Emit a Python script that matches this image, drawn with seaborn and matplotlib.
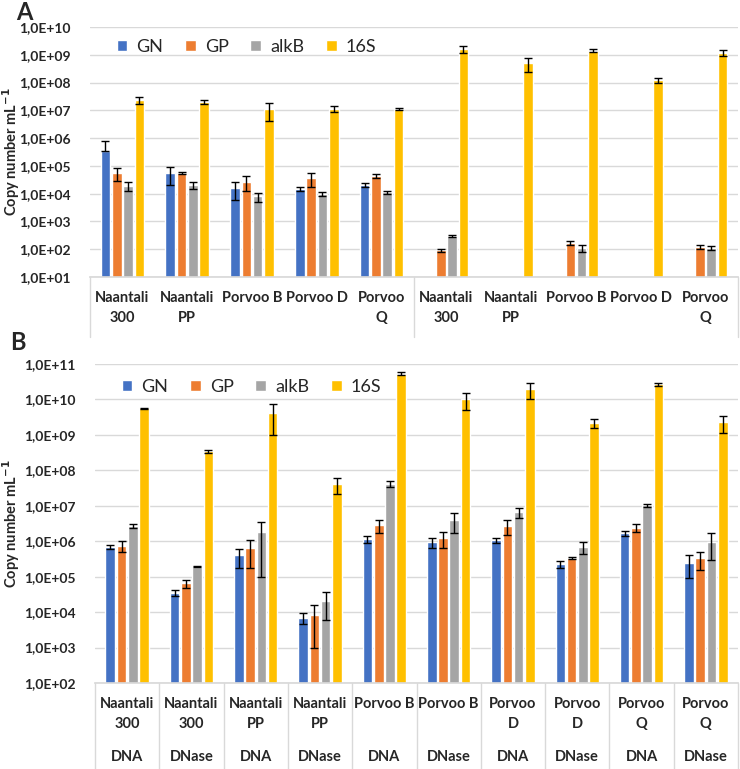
import numpy as np
import pandas as pd
import matplotlib
matplotlib.use("Agg")
import matplotlib.pyplot as plt
import seaborn as sns

# ---- data ----
genes = ["GN", "GP", "alkB", "16S"]
colors = ["#4472C4", "#ED7D31", "#A5A5A5", "#FFC000"]

# panel A
samples_a = ["Naantali\n300", "Naantali\nPP", "Porvoo B", "Porvoo D", "Porvoo\nQ",
             "Naantali\n300 ", "Naantali\nPP ", "Porvoo B ", "Porvoo D ", "Porvoo\nQ "]
gn_a = [3.5e5, 5.6e4, 1.6e4, 1.5e4, 2.1e4, np.nan, np.nan, np.nan, np.nan, np.nan]
gp_a = [5.6e4, 5.6e4, 2.7e4, 3.7e4, 4.4e4, 90, np.nan, 170, np.nan, 125]
alkb_a = [1.9e4, 2.1e4, 8.0e3, 1.0e4, 1.15e4, 300, np.nan, 110, np.nan, 110]
s16_a = [2.3e7, 2.0e7, 1.1e7, 1.15e7, 1.1e7, 1.6e9, 5.2e8, 1.4e9, 1.25e8, 1.2e9]
gn_a_sd = [4.1e5, 3.5e4, 1.0e4, 3e3, 4e3, np.nan, np.nan, np.nan, np.nan, np.nan]
gp_a_sd = [2.7e4, 5e3, 1.5e4, 2e4, 6e3, 8, np.nan, 30, np.nan, 20]
alkb_a_sd = [7e3, 6e3, 3e3, 1.5e3, 1.5e3, 15, np.nan, 30, np.nan, 20]
s16_a_sd = [6e6, 3e6, 7e6, 3e6, 1e6, 4e8, 2.7e8, 1.5e8, 2.5e7, 3e8]

# panel B
samples_b = ["Naantali\n300", "Naantali\n300 ", "Naantali\nPP", "Naantali\nPP ",
             "Porvoo B", "Porvoo B ", "Porvoo\nD", "Porvoo\nD ", "Porvoo\nQ", "Porvoo\nQ "]
treat_b = ["DNA", "DNase"] * 5
gn_b = [7e5, 3.5e4, 4e5, 7e3, 1.15e6, 9.5e5, 1.07e6, 2.3e5, 1.7e6, 2.5e5]
gp_b = [7.5e5, 6.5e4, 6.3e5, 8.5e3, 2.9e6, 1.25e6, 2.7e6, 3.3e5, 2.4e6, 3.3e5]
alkb_b = [2.7e6, 1.9e5, 1.8e6, 2.1e4, 4.2e7, 4e6, 6.5e6, 7e5, 1.05e7, 9.8e5]
s16_b = [5.6e9, 3.4e8, 4.2e9, 4.2e7, 5.3e10, 1e10, 2e10, 2.2e9, 2.7e10, 2.3e9]
gn_b_sd = [1e5, 7e3, 2.2e5, 2.5e3, 2.5e5, 3e5, 2e5, 5e4, 2.5e5, 1.6e5]
gp_b_sd = [2.5e5, 1.7e4, 4.6e5, 7.5e3, 1.2e6, 6e5, 1.2e6, 2e4, 6e5, 1.8e5]
alkb_b_sd = [4e5, 5e3, 1.7e6, 1.5e4, 8e6, 2.3e6, 2e6, 2.6e5, 1e6, 6.8e5]
s16_b_sd = [2e8, 3e7, 3.2e9, 2e7, 5e9, 5e9, 1e10, 6e8, 3e9, 1.2e9]


def long_frame(samples, cols, sds):
    rows = []
    for g, vals, errs in zip(genes, cols, sds):
        for s, v, e in zip(samples, vals, errs):
            rows.append({"sample": s, "gene": g, "value": v, "sd": e})
    return pd.DataFrame(rows)


df_a = long_frame(samples_a, [gn_a, gp_a, alkb_a, s16_a], [gn_a_sd, gp_a_sd, alkb_a_sd, s16_a_sd])
df_b = long_frame(samples_b, [gn_b, gp_b, alkb_b, s16_b], [gn_b_sd, gp_b_sd, alkb_b_sd, s16_b_sd])

sns.set_theme(style="white")
plt.rcParams["font.family"] = ["Lato", "DejaVu Sans"]

fig = plt.figure(figsize=(7.4, 7.69), dpi=100)
ax_a = fig.add_axes([90 / 740, 1 - 277 / 769, 648 / 740, 250 / 769])
ax_b = fig.add_axes([95 / 740, 1 - 683 / 769, 643 / 740, 319 / 769])

BAR_W = 0.7
GRID = "#D9D9D9"


def draw_panel(ax, df, samples, ymin_exp, ymax_exp, sep_positions, sep_depth, leg_y):
    sns.barplot(data=df.dropna(subset=["value"]), x="sample", y="value", hue="gene",
                order=samples, hue_order=genes, palette=colors, width=BAR_W, gap=0.15,
                errorbar=None, ax=ax, zorder=2, saturation=1)
    ax.set_yscale("log")
    ax.set_ylim(10.0 ** ymin_exp, 10.0 ** ymax_exp)
    # error bars (mean +/- SD, lower part hidden when it would go below zero)
    for j, g in enumerate(genes):
        sub = df[df["gene"] == g].reset_index(drop=True)
        x = np.arange(len(samples)) + (j - 1.5) * BAR_W / 4
        ok = sub["value"].notna().values
        v = sub["value"].values[ok]
        sd = sub["sd"].values[ok]
        lo = np.where(sd < v, sd, 0)
        ax.errorbar(x[ok], v, yerr=[lo, sd], fmt="none", ecolor="black",
                    elinewidth=1, capsize=3, capthick=1, zorder=3)
    exps = np.arange(ymin_exp, ymax_exp + 1)
    ax.set_yticks(10.0 ** exps)
    ax.set_yticklabels([f"1,0E+{e:02d}" for e in exps], fontweight="bold", fontsize=10)
    ax.yaxis.set_minor_locator(matplotlib.ticker.NullLocator())
    ax.grid(axis="y", color=GRID, linewidth=1, zorder=0)
    ax.set_axisbelow(True)
    ax.tick_params(axis="y", length=0, pad=14)
    ax.tick_params(axis="x", length=0, pad=10)
    ax.set_xticks(range(len(samples)))
    ax.set_xticklabels([s.strip() for s in samples], fontweight="bold", fontsize=10.5,
                       linespacing=1.6)
    ax.set_xlim(-0.5, len(samples) - 0.5)
    for sp in ["top", "left", "right"]:
        ax.spines[sp].set_visible(False)
    ax.spines["bottom"].set_color(GRID)
    ax.set_xlabel("")
    ax.set_ylabel("Copy number mL$^{\\mathbf{-1}}$", fontweight="bold", fontsize=10.5)
    for xs in sep_positions:
        ax.plot([xs, xs], [0, -sep_depth], transform=ax.get_xaxis_transform(),
                color=GRID, linewidth=1, clip_on=False)
    ax.legend(loc="center left", bbox_to_anchor=(0.03, leg_y), ncol=4, frameon=False,
              fontsize=13, handlelength=0.6, handleheight=0.6, handletextpad=0.5,
              columnspacing=1.2, borderaxespad=0)


draw_panel(ax_a, df_a, samples_a, 1, 10, [-0.5, 4.5, 9.5], 0.24, 0.92)
ax_a.yaxis.set_label_coords(-0.105, 0.5)
draw_panel(ax_b, df_b, samples_b, 2, 11, [i - 0.5 for i in range(11)], 0.28, 0.928)
ax_b.yaxis.set_label_coords(-0.114, 0.5)

for i, t in enumerate(treat_b):
    ax_b.text(i, -0.232, t, transform=ax_b.get_xaxis_transform(), ha="center", va="center",
              fontweight="bold", fontsize=10.5)

fig.text(16 / 740, 1 - 12 / 769, "A", fontsize=17, fontweight="bold", va="center", ha="left")
fig.text(10 / 740, 1 - 342 / 769, "B", fontsize=17, fontweight="bold", va="center", ha="left")

fig.savefig("out.png", dpi=100)
